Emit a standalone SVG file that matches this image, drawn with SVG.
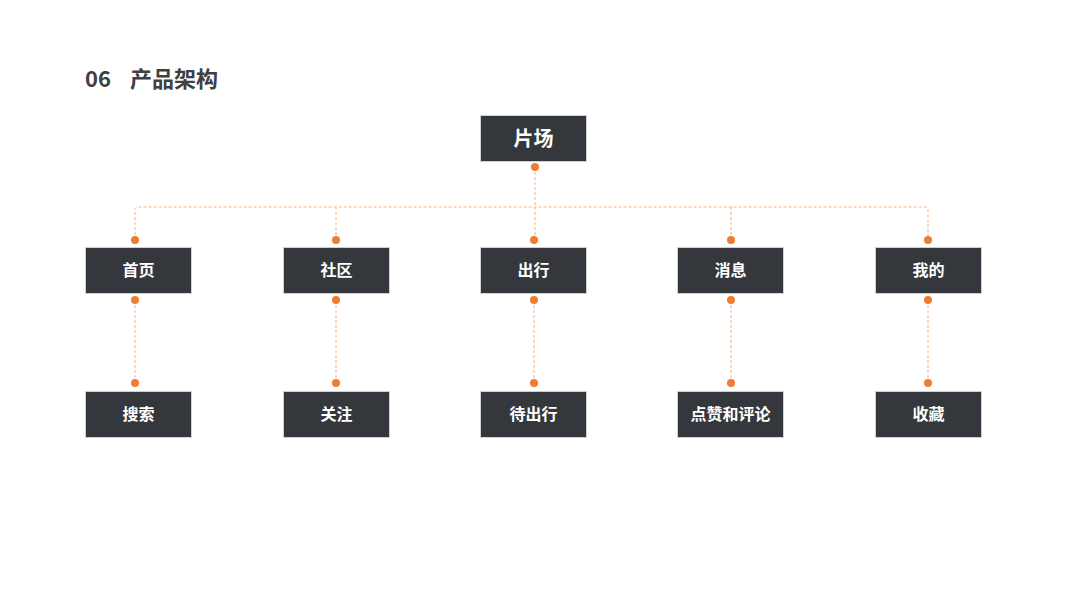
<svg xmlns="http://www.w3.org/2000/svg" width="1067" height="600" viewBox="0 0 1067 600">
<defs>
<style>
.box{fill:#34373b;stroke:#d0d0d0;stroke-width:1}
.lbl{fill:#ffffff;font-family:"Noto Sans CJK SC","Noto Sans",sans-serif;font-weight:bold;font-size:16px;text-anchor:middle}
.big{font-size:20px}
.ln{fill:none;stroke:#f4b183;stroke-width:1;stroke-dasharray:3,2}
.dot{fill:#ed7d31}
.title{fill:#404040;font-family:"Noto Sans CJK SC","Noto Sans",sans-serif;font-weight:bold;font-size:22px}
</style>
</defs>
<rect width="1067" height="600" fill="#ffffff"/>
<text class="title" x="85" y="87">06</text>
<text class="title" x="130" y="87">产品架构</text>
<g id="connectors">
<path class="ln" d="M535 167 V240"/>
<path class="ln" d="M135 240 V211 Q135 207 139 207 H924 Q928 207 928 211 V240"/>
<path class="ln" d="M336 207 V240"/>
<path class="ln" d="M731 207 V240"/>
<path class="ln" d="M135 300 V383"/>
<path class="ln" d="M336 300 V383"/>
<path class="ln" d="M534 300 V383"/>
<path class="ln" d="M731 300 V383"/>
<path class="ln" d="M928 300 V383"/>
<circle class="dot" cx="535" cy="167" r="4"/>
<circle class="dot" cx="135" cy="240" r="4"/>
<circle class="dot" cx="336" cy="240" r="4"/>
<circle class="dot" cx="534" cy="240" r="4"/>
<circle class="dot" cx="731" cy="240" r="4"/>
<circle class="dot" cx="928" cy="240" r="4"/>
<circle class="dot" cx="135" cy="300" r="4"/>
<circle class="dot" cx="336" cy="300" r="4"/>
<circle class="dot" cx="534" cy="300" r="4"/>
<circle class="dot" cx="731" cy="300" r="4"/>
<circle class="dot" cx="928" cy="300" r="4"/>
<circle class="dot" cx="135" cy="383" r="4"/>
<circle class="dot" cx="336" cy="383" r="4"/>
<circle class="dot" cx="534" cy="383" r="4"/>
<circle class="dot" cx="731" cy="383" r="4"/>
<circle class="dot" cx="928" cy="383" r="4"/>
</g>
<g id="n-root"><rect class="box" x="480.5" y="115.5" width="106" height="46"/><text class="lbl big" x="533.5" y="145.5">片场</text></g>
<g id="n-home"><rect class="box" x="85.5" y="247.5" width="106" height="46"/><text class="lbl" x="138.5" y="276">首页</text></g>
<g id="n-community"><rect class="box" x="283.5" y="247.5" width="106" height="46"/><text class="lbl" x="336.5" y="276">社区</text></g>
<g id="n-trip"><rect class="box" x="480.5" y="247.5" width="106" height="46"/><text class="lbl" x="533.5" y="276">出行</text></g>
<g id="n-msg"><rect class="box" x="677.5" y="247.5" width="106" height="46"/><text class="lbl" x="730.5" y="276">消息</text></g>
<g id="n-me"><rect class="box" x="875.5" y="247.5" width="106" height="46"/><text class="lbl" x="928.5" y="276">我的</text></g>
<g id="n-search"><rect class="box" x="85.5" y="391.5" width="106" height="46"/><text class="lbl" x="138.5" y="420">搜索</text></g>
<g id="n-follow"><rect class="box" x="283.5" y="391.5" width="106" height="46"/><text class="lbl" x="336.5" y="420">关注</text></g>
<g id="n-pending"><rect class="box" x="480.5" y="391.5" width="106" height="46"/><text class="lbl" x="533.5" y="420">待出行</text></g>
<g id="n-like"><rect class="box" x="677.5" y="391.5" width="106" height="46"/><text class="lbl" x="730.5" y="420">点赞和评论</text></g>
<g id="n-fav"><rect class="box" x="875.5" y="391.5" width="106" height="46"/><text class="lbl" x="928.5" y="420">收藏</text></g>
</svg>
